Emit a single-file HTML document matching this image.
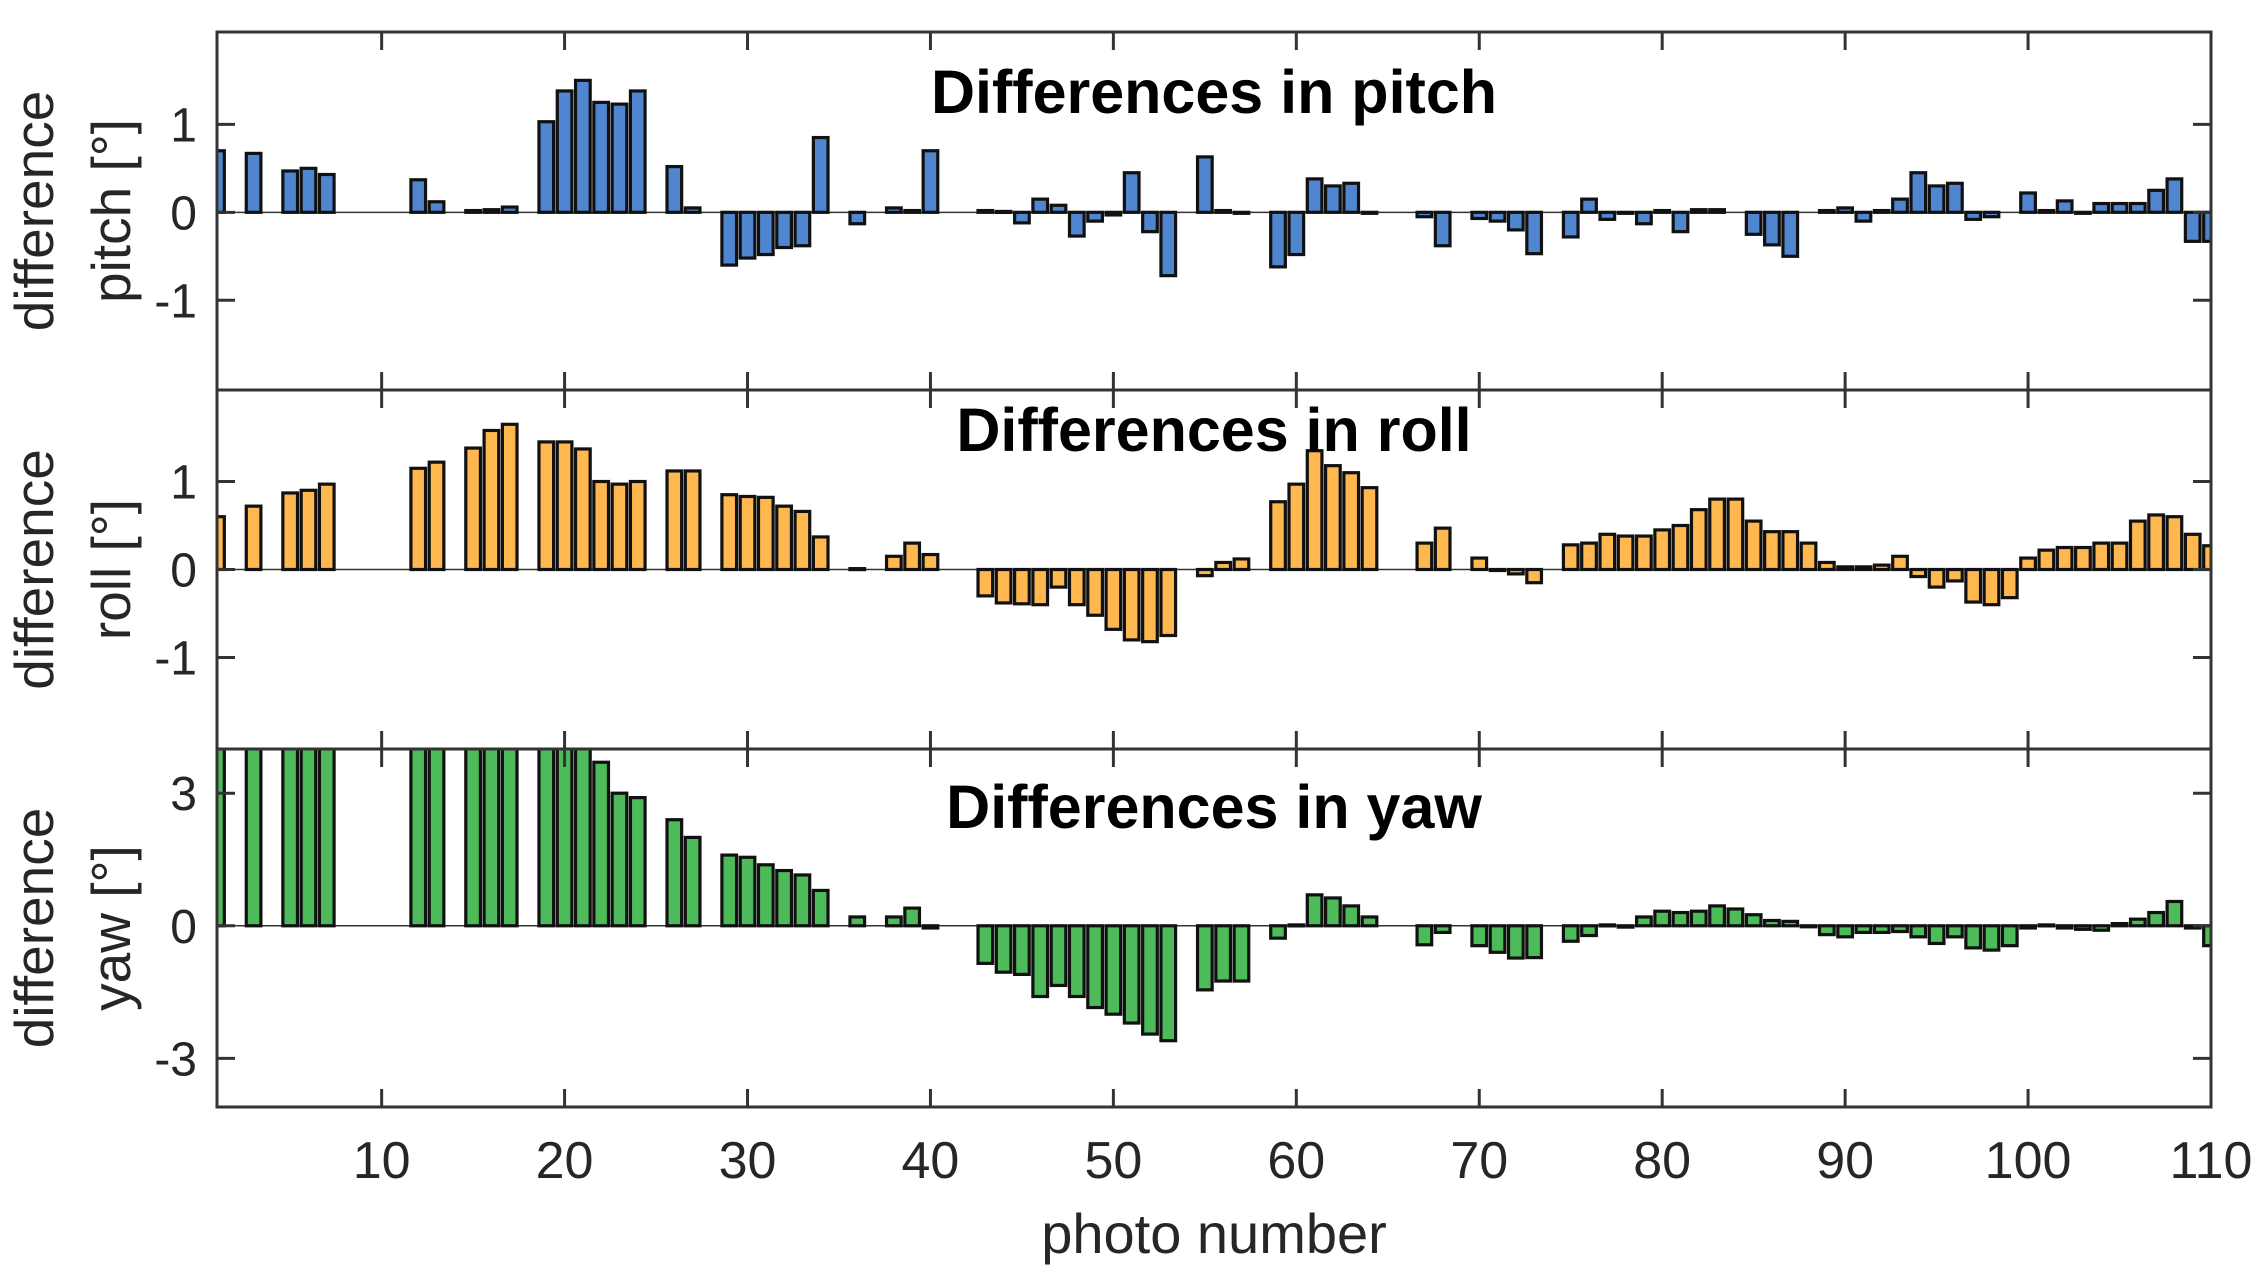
<!DOCTYPE html>
<html><head><meta charset="utf-8"><style>
body{margin:0;background:#fff;}
svg{display:block;font-family:"Liberation Sans",Arial,sans-serif;}
</style></head><body>
<svg id="chart" width="2266" height="1285" viewBox="0 0 2266 1285" xmlns="http://www.w3.org/2000/svg"></svg>
<script>
const N = null;
const photos = Array.from({length:110},(_, i)=>i+1);
const pitchValues = [0.7,N,0.67,N,0.47,0.5,0.43,N,N,N,N,0.37,0.12,N,0.02,0.03,0.06,N,1.03,1.38,1.5,1.25,1.23,1.38,N,0.52,0.05,N,-0.6,-0.52,-0.48,-0.4,-0.38,0.85,N,-0.13,N,0.05,0.02,0.7,N,N,0.02,0.01,-0.12,0.15,0.08,-0.27,-0.1,-0.03,0.45,-0.22,-0.72,N,0.63,0.02,0,N,-0.62,-0.48,0.38,0.3,0.33,0,N,N,-0.05,-0.38,N,-0.07,-0.1,-0.2,-0.47,N,-0.28,0.15,-0.08,0,-0.13,0.02,-0.22,0.03,0.03,N,-0.25,-0.37,-0.5,N,0.02,0.05,-0.1,0.02,0.15,0.45,0.3,0.33,-0.08,-0.05,N,0.22,0.02,0.13,0,0.1,0.1,0.1,0.25,0.38,-0.33,-0.33];
const rollValues = [0.6,N,0.72,N,0.87,0.9,0.97,N,N,N,N,1.15,1.22,N,1.38,1.58,1.65,N,1.45,1.45,1.37,1.0,0.97,1.0,N,1.12,1.12,N,0.85,0.83,0.82,0.72,0.66,0.37,N,0.01,N,0.15,0.3,0.17,N,N,-0.3,-0.38,-0.39,-0.4,-0.2,-0.4,-0.52,-0.68,-0.8,-0.82,-0.75,N,-0.07,0.08,0.12,N,0.77,0.97,1.35,1.18,1.1,0.93,N,N,0.3,0.47,N,0.13,0.0,-0.05,-0.15,N,0.28,0.3,0.4,0.38,0.38,0.45,0.5,0.68,0.8,0.8,0.55,0.43,0.43,0.3,0.08,0.03,0.03,0.05,0.15,-0.08,-0.2,-0.13,-0.37,-0.4,-0.32,0.13,0.22,0.25,0.25,0.3,0.3,0.55,0.62,0.6,0.4,0.27];
const yawValues = [6,N,6,N,6,6,6,N,N,N,N,6,6,N,6,6,6,N,6,6,4.05,3.7,3.0,2.9,N,2.4,2.0,N,1.6,1.55,1.38,1.25,1.15,0.8,N,0.2,N,0.2,0.4,-0.05,N,N,-0.85,-1.05,-1.1,-1.6,-1.35,-1.6,-1.85,-2.0,-2.2,-2.45,-2.6,N,-1.45,-1.25,-1.25,N,-0.28,0.02,0.7,0.63,0.45,0.2,N,N,-0.43,-0.15,N,-0.45,-0.6,-0.73,-0.72,N,-0.35,-0.22,0.02,-0.03,0.2,0.33,0.3,0.33,0.45,0.38,0.25,0.12,0.1,-0.02,-0.2,-0.25,-0.15,-0.15,-0.13,-0.25,-0.4,-0.25,-0.5,-0.55,-0.45,-0.05,0.02,-0.05,-0.08,-0.1,0.05,0.15,0.3,0.55,-0.05,-0.45];
const xTicks = [10,20,30,40,50,60,70,80,90,100,110];
const pitchTicks = [-1,0,1];
const rollTicks = [-1,0,1];
const yawTicks = [-3,0,3];

const svg = document.getElementById('chart');
const NS = 'http://www.w3.org/2000/svg';
function mk(tag, attrs, parent){const e=document.createElementNS(NS,tag);for(const k in attrs)e.setAttribute(k,attrs[k]);(parent||svg).appendChild(e);return e;}
const L=217,R=2211;
const xMin=1,xMax=110;
const xs = v => L+(v-xMin)/(xMax-xMin)*(R-L);
const unit = (R-L)/(xMax-xMin);

const panels = [
 {name:'pitch',top:32,bot:390,ymin:-2.02,ymax:2.05,vals:pitchValues,ticks:pitchTicks,color:'#4f86cf',title:'Differences in pitch',ty:113,lab:'pitch [°]'},
 {name:'roll',top:390,bot:749,ymin:-2.04,ymax:2.04,vals:rollValues,ticks:rollTicks,color:'#ffb84f',title:'Differences in roll',ty:451,lab:'roll [°]'},
 {name:'yaw',top:749,bot:1107,ymin:-4.1,ymax:4.0,vals:yawValues,ticks:yawTicks,color:'#4dbb5a',title:'Differences in yaw',ty:828,lab:'yaw [°]'}
];

panels.forEach(p=>{
  const g=mk('g',{});
  
  
  const ys = v => p.bot-(v-p.ymin)/(p.ymax-p.ymin)*(p.bot-p.top);
  const clipId='clip-'+p.name;
  const cp=mk('clipPath',{id:clipId},g);
  mk('rect',{x:L,y:p.top,width:R-L,height:p.bot-p.top},cp);
  const bars=mk('g',{'clip-path':'url(#'+clipId+')'},g);
  const y0=ys(0);
  mk('line',{x1:L,x2:R,y1:y0,y2:y0,stroke:'#333','stroke-width':1.5},bars);
  p.vals.forEach((v,i)=>{
    if(v===null) return;
    const cx=xs(photos[i]);const yv=ys(v);
    const b=mk('rect',{x:cx-unit*0.4,y:Math.min(yv,y0),width:unit*0.8,height:Math.max(Math.abs(yv-y0),1),fill:p.color,stroke:'#111','stroke-width':3.2},bars);
    
    
  });
  mk('rect',{x:L,y:p.top,width:R-L,height:p.bot-p.top,fill:'none',stroke:'#333','stroke-width':3},g);
  xTicks.forEach(t=>{
    const x=xs(t);
    mk('line',{x1:x,x2:x,y1:p.top,y2:p.top+18,stroke:'#333','stroke-width':3},g);
    mk('line',{x1:x,x2:x,y1:p.bot,y2:p.bot-18,stroke:'#333','stroke-width':3},g);
  });
  p.ticks.forEach(t=>{
    const y=ys(t);
    mk('line',{x1:L,x2:L+18,y1:y,y2:y,stroke:'#333','stroke-width':3},g);
    mk('line',{x1:R,x2:R-18,y1:y,y2:y,stroke:'#333','stroke-width':3},g);
    const tl=mk('text',{x:L-20,y:y+17,'text-anchor':'end','font-size':48,fill:'#262626'},g);
    tl.textContent=t;
    
    
  });
  const tt=mk('text',{x:1214,y:p.ty,'text-anchor':'middle','font-size':61,'font-weight':'bold',fill:'#000'},g);
  tt.textContent=p.title;
  
  
  const cy=(p.top+p.bot)/2;
  const yl=mk('text',{transform:'translate(53,'+cy+') rotate(-90)','text-anchor':'middle','font-size':55,fill:'#262626'},g);
  yl.textContent='difference';
  
  
  const yl2=mk('text',{transform:'translate(130,'+cy+') rotate(-90)','text-anchor':'middle','font-size':55,fill:'#262626'},g);
  yl2.textContent=p.lab;
  
  
});

xTicks.forEach(t=>{
  const tl=mk('text',{x:xs(t),y:1178,'text-anchor':'middle','font-size':52,fill:'#262626'});
  tl.textContent=t;
  
  
});
const xl=mk('text',{x:1214,y:1253,'text-anchor':'middle','font-size':56,fill:'#262626'});
xl.textContent='photo number';


</script>
</body></html>
